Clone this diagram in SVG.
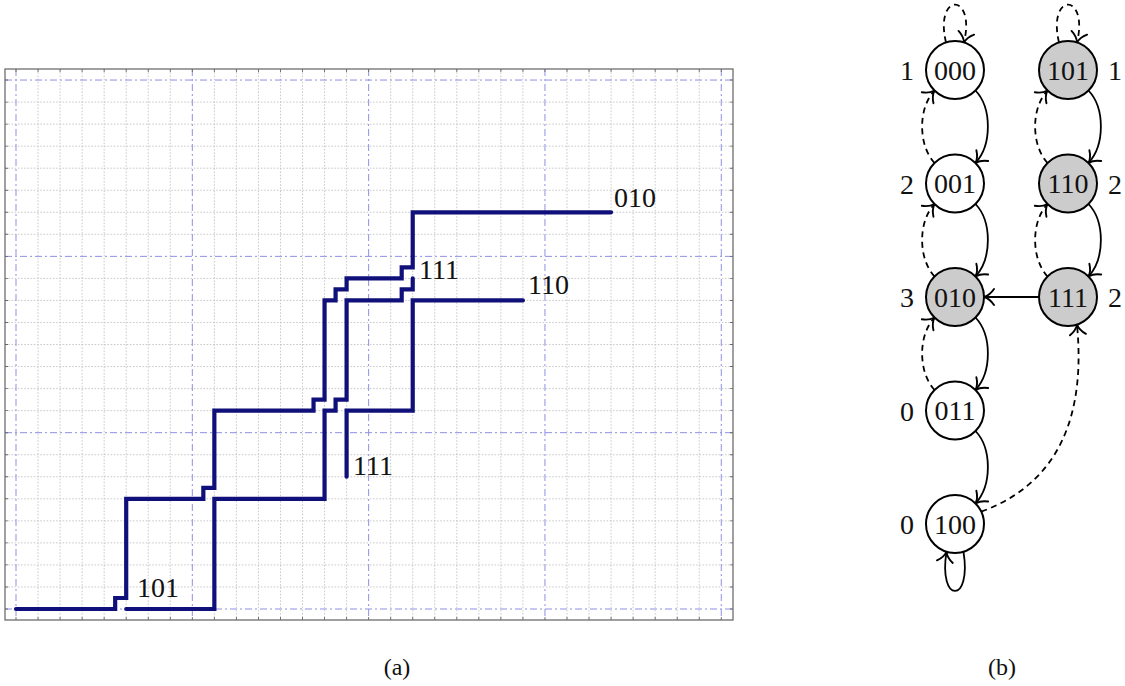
<svg xmlns="http://www.w3.org/2000/svg" width="1125" height="686" viewBox="0 0 1125 686">
<style>
.minor{fill:none;stroke:#bdbdbd;stroke-width:0.8;stroke-dasharray:1.6 1.6}
.major{fill:none;stroke:#8f8fe6;stroke-width:1;stroke-dasharray:7 3 2 3}
.tick{fill:none;stroke:#666;stroke-width:3;stroke-dasharray:0.9 21.14}
.run{fill:none;stroke:#10107a;stroke-width:4.2;stroke-linejoin:miter;stroke-linecap:round}
.node circle{stroke:#000;stroke-width:2;fill:#fff}
.node.g circle{fill:#cccccc}
.e{fill:none;stroke:#000;stroke-width:1.8}
.d{stroke-dasharray:6 4.5}
</style>
<defs>
<marker id="arr" markerUnits="userSpaceOnUse" markerWidth="16" markerHeight="20" viewBox="-14 -10 16 20" refX="0" refY="0" orient="auto">
<path d="M-10,-8 C-7,-3.5 -3,-0.9 0,0 C-3,0.9 -7,3.5 -10,8" fill="none" stroke="#000" stroke-width="1.9" stroke-linecap="round"/>
</marker>
</defs>
<rect width="1125" height="686" fill="#fff"/>
<g id="plot-a">
<path class="minor" d="M38.04,69V620M60.08,69V620M82.12,69V620M104.16,69V620M126.2,69V620M148.24,69V620M170.28,69V620M214.36,69V620M236.4,69V620M258.44,69V620M280.48,69V620M302.52,69V620M324.56,69V620M346.6,69V620M390.68,69V620M412.72,69V620M434.76,69V620M456.8,69V620M478.84,69V620M500.88,69V620M522.92,69V620M567,69V620M589.04,69V620M611.08,69V620M633.12,69V620M655.16,69V620M677.2,69V620M699.24,69V620"/>
<path class="minor" d="M5,586.96H733M5,564.92H733M5,542.88H733M5,520.84H733M5,498.8H733M5,476.76H733M5,454.72H733M5,410.64H733M5,388.6H733M5,366.56H733M5,344.52H733M5,322.48H733M5,300.44H733M5,278.4H733M5,234.32H733M5,212.28H733M5,190.24H733M5,168.2H733M5,146.16H733M5,124.12H733M5,102.08H733"/>
<path class="major" d="M16,69V620M192.32,69V620M368.64,69V620M544.96,69V620M721.28,69V620M5,609H733M5,432.68H733M5,256.36H733M5,80.04H733"/>
<line class="tick" x1="15.55" y1="618.5" x2="733" y2="618.5"/>
<line class="tick" x1="15.55" y1="70.5" x2="733" y2="70.5"/>
<line class="tick" x1="6.5" y1="609.45" x2="6.5" y2="69"/>
<line class="tick" x1="731.5" y1="609.45" x2="731.5" y2="69"/>
<rect x="5" y="69" width="728" height="551" fill="none" stroke="#6e6e6e" stroke-width="1.3"/>
<path class="run" d="M16,609H115.18V597.98H126.2V498.8H203.34V487.78H214.36V410.64H313.54V399.62H324.56V300.44H335.58V289.42H346.6V278.4H401.7V267.38H412.72V212.28H611.08"/>
<path class="run" d="M126.2,609H214.36V498.8H324.56V410.64H335.58V399.62H346.6V300.44H401.7V289.42H412.72V278.4"/>
<path class="run" d="M346.6,476.76V410.64H412.72V300.44H522.92"/>
<g font-family="'Liberation Serif', 'DejaVu Serif', serif" font-size="28" fill="#111">
<text x="614" y="207">010</text>
<text x="419" y="279">111</text>
<text x="528" y="294">110</text>
<text x="353" y="475">111</text>
<text x="137" y="597">101</text>
</g>
</g>
<g font-family="'Liberation Serif', 'DejaVu Serif', serif" font-size="24" fill="#111" text-anchor="middle">
<text x="397" y="675">(a)</text>
<text x="1002" y="675">(b)</text>
</g>
<g id="edges" marker-end="url(#arr)">
<path class="e d" marker-end="url(#arr)" d="M946,42.5 C934,-8 976,-8 964,42.5"/>
<path class="e d" marker-end="url(#arr)" d="M1059,42.5 C1047,-8 1089,-8 1077,42.5"/>
<path class="e" marker-end="url(#arr)" d="M975.5,90.5 C992,108 992,145 975.5,163"/>
<path class="e d" marker-end="url(#arr)" d="M934.5,163 C918,145 918,108 934.5,90.5"/>
<path class="e" marker-end="url(#arr)" d="M975.5,204 C992,221.5 992,258.5 975.5,276.5"/>
<path class="e d" marker-end="url(#arr)" d="M934.5,276.5 C918,258.5 918,221.5 934.5,204"/>
<path class="e" marker-end="url(#arr)" d="M975.5,317.5 C992,335 992,372 975.5,390"/>
<path class="e d" marker-end="url(#arr)" d="M934.5,390 C918,372 918,335 934.5,317.5"/>
<path class="e" marker-end="url(#arr)" d="M975.5,431 C992,448.5 992,485.5 975.5,503.5"/>
<path class="e" marker-end="url(#arr)" d="M1088.5,90.5 C1105,108 1105,145 1088.5,163"/>
<path class="e d" marker-end="url(#arr)" d="M1047.5,163 C1031,145 1031,108 1047.5,90.5"/>
<path class="e" marker-end="url(#arr)" d="M1088.5,204 C1105,221.5 1105,258.5 1088.5,276.5"/>
<path class="e d" marker-end="url(#arr)" d="M1047.5,276.5 C1031,258.5 1031,221.5 1047.5,204"/>
<path class="e" marker-end="url(#arr)" d="M1039,297 L984,297"/>
<path class="e d" marker-end="url(#arr)" d="M981.3,511.7 C1040,490 1088,440 1077,324.6"/>
<path class="e" marker-end="url(#arr)" d="M963.5,551.8 C972,604 938,604 946.5,551.8"/>
</g>
<g font-family="'Liberation Serif', 'DejaVu Serif', serif" font-size="28" fill="#111" text-anchor="middle">
<g id="n000" class="node"><circle cx="955" cy="70" r="29"/><text x="955" y="79.5">000</text></g>
<g id="n001" class="node"><circle cx="955" cy="183.5" r="29"/><text x="955" y="193">001</text></g>
<g id="n010" class="node g"><circle cx="955" cy="297" r="29"/><text x="955" y="306.5">010</text></g>
<g id="n011" class="node"><circle cx="955" cy="410.5" r="29"/><text x="955" y="420">011</text></g>
<g id="n100" class="node"><circle cx="955" cy="524" r="29"/><text x="955" y="533.5">100</text></g>
<g id="n101" class="node g"><circle cx="1068" cy="70" r="29"/><text x="1068" y="79.5">101</text></g>
<g id="n110" class="node g"><circle cx="1068" cy="183.5" r="29"/><text x="1068" y="193">110</text></g>
<g id="n111" class="node g"><circle cx="1068" cy="297" r="29"/><text x="1068" y="306.5">111</text></g>
<g id="side-labels">
<text x="907" y="80">1</text>
<text x="907" y="193.5">2</text>
<text x="907" y="307">3</text>
<text x="907" y="420.5">0</text>
<text x="907" y="534">0</text>
<text x="1115" y="80">1</text>
<text x="1115" y="193.5">2</text>
<text x="1115" y="307">2</text>
</g>
</g>
</svg>
